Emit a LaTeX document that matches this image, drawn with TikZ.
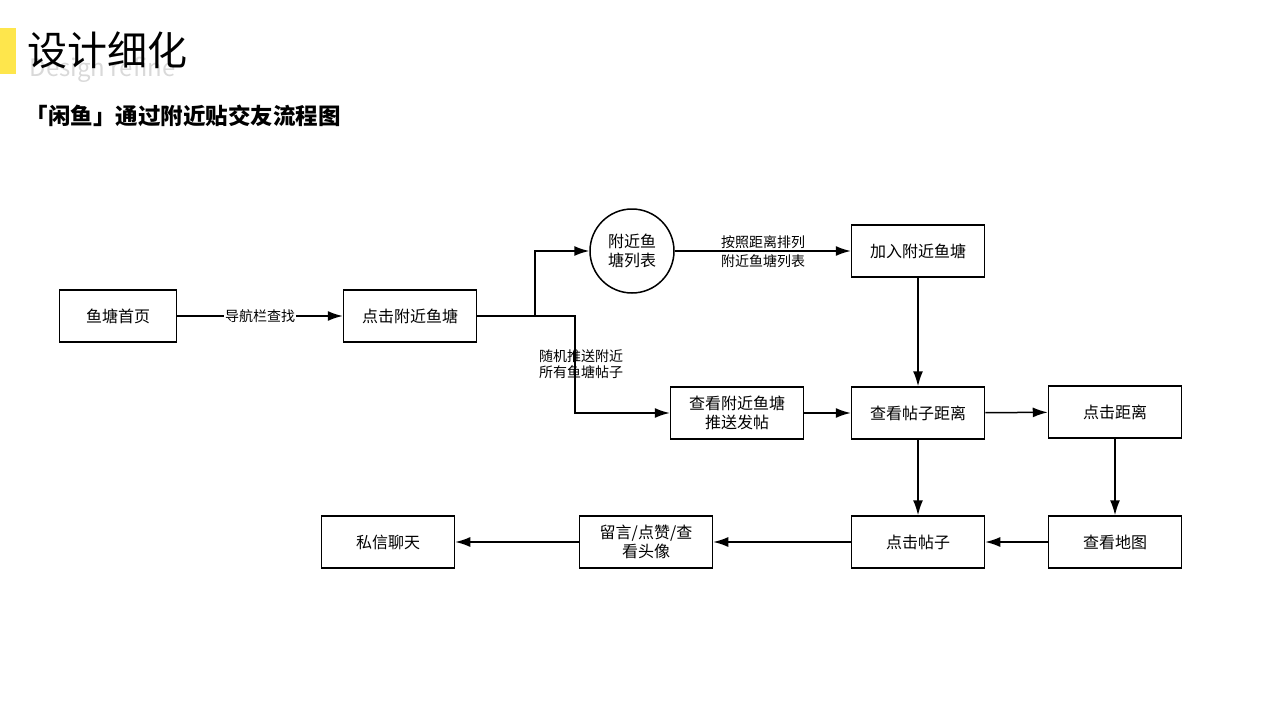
\documentclass[tikz,border=0pt]{standalone}
\usepackage{fontspec}
\setmainfont{Noto Sans CJK SC}
\usetikzlibrary{arrows.meta,positioning}
\tikzset{
      box/.style = {draw, line width=1.5pt, minimum width=133pt, minimum height=52pt, align=center, font=\fontsize{16}{19}\selectfont},
      pond/.style = {draw, circle, line width=1.5pt, minimum size=84pt, align=center, inner sep=0pt, font=\fontsize{16}{19}\selectfont},
      flow/.style = {line width=1.5pt, -{Latex[length=15pt,width=10pt]}},
      lbl/.style = {fill=white, inner sep=1pt, align=center, font=\fontsize{14}{16}\selectfont},
    }
\begin{document}
\begin{tikzpicture}[x=1pt,y=-1pt]
            \useasboundingbox (0,0) rectangle (1280,720);
            \fill[yellow!80!orange!70] (0,28) rectangle (16,74);
            \node[anchor=west, text=black!15, font=\fontsize{24}{24}\selectfont] at (26,70) {Design refine};
            \node[anchor=west, font=\fontsize{40}{42}\selectfont] (title) at (24,50) {设计细化};
            \node[anchor=west, font=\bfseries\fontsize{22.5}{24}\selectfont] (sub) at (22,116) {「闲鱼」通过附近贴交友流程图};

            \node [box, minimum width=117pt] (home) at (118,316) {鱼塘首页};
            \node [box] (near)  at (410,316)  {点击附近鱼塘};
            \node [pond] (list) at (632,251)  {附近鱼\\塘列表};
            \node [box] (join)  at (918,251)  {加入附近鱼塘};
            \node [box] (push)  at (737,413)  {查看附近鱼塘\\推送发帖};
            \node [box] (dist)  at (918,413)  {查看帖子距离};
            \node [box] (cdist) at (1115,412) {点击距离};
            \node [box] (map)   at (1115,542) {查看地图};
            \node [box] (post)  at (918,542)  {点击帖子};
            \node [box] (like)  at (646,542)  {留言/点赞/查\\看头像};
            \node [box] (chat)  at (388,542)  {私信聊天};

            \draw[flow] (home) -- node[lbl] {导航栏查找} (near);
            \draw[flow] (near.east) -| (535,251) -- (list);
            \draw[flow] (near.east) -- (575,316) |- (push);
            \node[lbl, fill=none] (rnd) at (581,364) {随机推送附近\\所有鱼塘帖子};
            \draw[flow] (list) -- (join);
            \node[lbl, fill=none, font=\fontsize{14}{19}\selectfont] (sort) at (763,252) {按照距离排列\\附近鱼塘列表};
            \draw[flow] (join) -- (dist);
            \draw[flow] (push) -- (dist);
            \draw[flow] (dist) -- (cdist);
            \draw[flow] (cdist) -- (map);
            \draw[flow] (map) -- (post);
            \draw[flow] (dist) -- (post);
            \draw[flow] (post) -- (like);
            \draw[flow] (like) -- (chat);
      \end{tikzpicture}
\end{document}
